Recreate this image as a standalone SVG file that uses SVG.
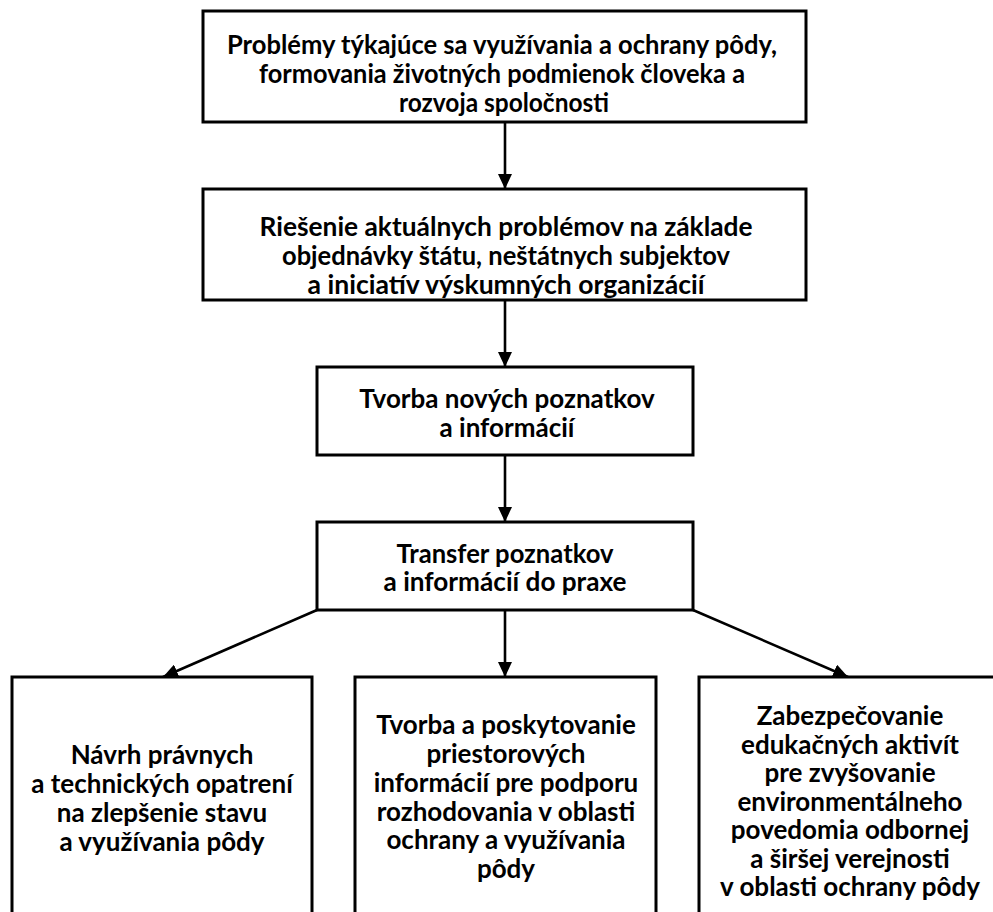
<svg xmlns="http://www.w3.org/2000/svg" width="993" height="912" viewBox="0 0 993 912">
<defs>
<marker id="ah" markerUnits="userSpaceOnUse" markerWidth="16" markerHeight="14" refX="15" refY="7" orient="auto">
<path d="M0,0 L15,7 L0,14 z" fill="#000"/>
</marker>
<style>
.box{fill:#fff;stroke:#000;stroke-width:3}
.t{font-family:Lato,"Open Sans",sans-serif;font-weight:700;font-size:26px;text-anchor:middle;fill:#000}
.c line{stroke:#000;stroke-width:2.6;marker-end:url(#ah)}
</style>
</defs>
<rect width="993" height="912" fill="#fff"/>
<g class="c" id="connectors">
<line x1="505" y1="122" x2="505" y2="189"/>
<line x1="505" y1="300" x2="505" y2="367"/>
<line x1="505" y1="455" x2="505" y2="522"/>
<line x1="317" y1="610" x2="163" y2="677"/>
<line x1="505" y1="610" x2="505" y2="677"/>
<line x1="693" y1="610" x2="848" y2="677"/>
</g>
<g id="n1">
<rect class="box" x="203" y="11" width="603" height="111"/>
<text class="t"><tspan x="502" y="53.5" textLength="550" lengthAdjust="spacingAndGlyphs">Problémy týkajúce sa využívania a ochrany pôdy,</tspan><tspan x="502" y="82.5" textLength="486" lengthAdjust="spacingAndGlyphs">formovania životných podmienok človeka a</tspan><tspan x="504" y="111.5" textLength="210" lengthAdjust="spacingAndGlyphs">rozvoja spoločnosti</tspan></text>
</g>
<g id="n2">
<rect class="box" x="203" y="189" width="603" height="111"/>
<text class="t"><tspan x="506" y="236" textLength="493" lengthAdjust="spacingAndGlyphs">Riešenie aktuálnych problémov na základe</tspan><tspan x="506" y="265" textLength="448" lengthAdjust="spacingAndGlyphs">objednávky štátu, neštátnych subjektov</tspan><tspan x="506" y="294" textLength="397" lengthAdjust="spacingAndGlyphs">a iniciatív výskumných organizácií</tspan></text>
</g>
<g id="n3">
<rect class="box" x="317" y="367" width="376" height="88"/>
<text class="t"><tspan x="507" y="408">Tvorba nových poznatkov</tspan><tspan x="507" y="437">a informácií</tspan></text>
</g>
<g id="n4">
<rect class="box" x="317" y="522" width="376" height="88"/>
<text class="t"><tspan x="505" y="563" textLength="217" lengthAdjust="spacingAndGlyphs">Transfer poznatkov</tspan><tspan x="505" y="591" textLength="243" lengthAdjust="spacingAndGlyphs">a informácií do praxe</tspan></text>
</g>
<g id="n5">
<rect class="box" x="12" y="677" width="300" height="250"/>
<text class="t"><tspan x="162" y="764">Návrh právnych</tspan><tspan x="162" y="793">a technických opatrení</tspan><tspan x="162" y="822">na zlepšenie stavu</tspan><tspan x="162" y="851">a využívania pôdy</tspan></text>
</g>
<g id="n6">
<rect class="box" x="355" y="677" width="301" height="250"/>
<text class="t"><tspan x="506" y="734">Tvorba a poskytovanie</tspan><tspan x="506" y="763">priestorových</tspan><tspan x="506" y="792">informácií pre podporu</tspan><tspan x="506" y="821">rozhodovania v oblasti</tspan><tspan x="506" y="849">ochrany a využívania</tspan><tspan x="506" y="878">pôdy</tspan></text>
</g>
<g id="n7">
<rect class="box" x="699" y="677" width="302" height="250"/>
<text class="t"><tspan x="850" y="725">Zabezpečovanie</tspan><tspan x="850" y="754">edukačných aktivít</tspan><tspan x="850" y="782">pre zvyšovanie</tspan><tspan x="850" y="811">environmentálneho</tspan><tspan x="850" y="839">povedomia odbornej</tspan><tspan x="850" y="868">a širšej verejnosti</tspan><tspan x="850" y="896">v oblasti ochrany pôdy</tspan></text>
</g>
</svg>
